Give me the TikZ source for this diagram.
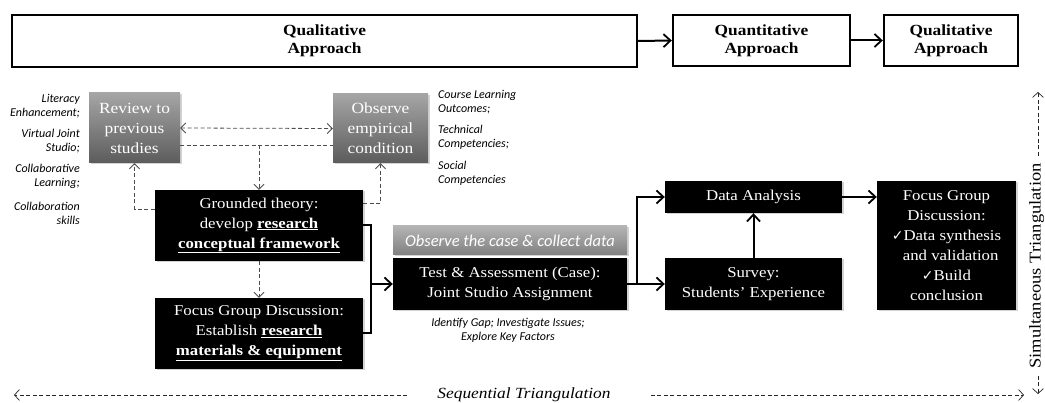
\documentclass[tikz,border=0pt]{standalone}
\usepackage{fontspec}
\setmainfont{Liberation Serif}[FakeStretch=1.12]
\newfontfamily\lab{Carlito}
\newfontfamily\sym{DejaVu Sans}
\usetikzlibrary{arrows.meta,shadows}
\definecolor{gtop}{RGB}{165,165,165}
\definecolor{gbot}{RGB}{92,92,92}
\definecolor{ctop}{RGB}{180,180,180}
\definecolor{cbot}{RGB}{128,128,128}
\begin{document}
\begin{tikzpicture}[x=1pt,y=-1pt,
  hdr/.style={draw,line width=2.4pt,align=center,inner sep=0pt,font=\fontsize{15.5}{18}\selectfont\bfseries},
  shad/.style={drop shadow={shadow xshift=1.5pt,shadow yshift=-1.5pt,opacity=0.35}},
  blk/.style={fill=black,text=white,align=center,inner sep=0pt,font=\fontsize{15}{20}\selectfont,shad},
  gry/.style={top color=gtop,bottom color=gbot,text=white,align=center,inner sep=0pt,font=\fontsize{15.5}{20}\selectfont,shad},
  lbl/.style={inner sep=0pt,font=\lab\itshape\fontsize{12}{13.8}\selectfont},
  sarr/.style={line width=2pt,-{Straight Barb[length=7pt,width=13pt,line width=1.8pt]}},
  sline/.style={line width=2pt},
  dl/.style={line width=0.8pt,draw=black!70,dash pattern=on 4pt off 2.5pt},
  darr/.style={dl,-{Straight Barb[length=5pt,width=10pt,line width=0.8pt]}},
  tri/.style={line width=0.7pt,draw=black!85,dash pattern=on 4pt off 2.5pt,-{Straight Barb[length=5pt,width=11pt,line width=0.7pt]}},
  tritxt/.style={inner sep=0pt,font=\fontsize{15.5}{18}\selectfont\itshape}
  ]
\useasboundingbox (0,0) rectangle (1045,403);

% header row
\node[hdr,minimum width=625pt,minimum height=52pt] (h1) at (324.5,41) {Qualitative\\Approach};
\node[hdr,minimum width=177pt,minimum height=51pt] (h2) at (761.5,40.5) {Quantitative\\Approach};
\node[hdr,minimum width=134pt,minimum height=51pt] (h3) at (951,40.5) {Qualitative\\Approach};
\draw[sarr] (h1.east) -- (h2.west);
\draw[sarr] (h2.east) -- (h3.west);

% gray boxes
\node[gry,minimum width=91pt,minimum height=70pt] (rev) at (134.5,128) {Review to\\previous\\studies};
\node[gry,minimum width=95pt,minimum height=69pt] (obs) at (380.5,128.5) {Observe\\empirical\\condition};

% left labels
\node[lbl,align=right,anchor=east] (l1) at (80,106.5) {Literacy\\Enhancement;};
\node[lbl,align=right,anchor=east] (l2) at (80,141.5) {Virtual Joint\\Studio;};
\node[lbl,align=right,anchor=east] (l3) at (80,176.5) {Collaborative\\Learning;};
\node[lbl,align=right,anchor=east] (l4) at (80,213.5) {Collaboration\\skills};
% right labels
\node[lbl,align=left,anchor=west] (r1) at (438,102) {Course Learning\\Outcomes;};
\node[lbl,align=left,anchor=west] (r2) at (438,137) {Technical\\Competencies;};
\node[lbl,align=left,anchor=west] (r3) at (438,173) {Social\\Competencies};

% black boxes left
\node[blk,minimum width=208pt,minimum height=71pt] (gt) at (259,225.5)
  {Grounded theory:\\develop \underline{\textbf{research}}\\\underline{\textbf{conceptual framework}}};
\node[blk,minimum width=208pt,minimum height=71pt] (fg) at (259,333.5)
  {Focus Group Discussion:\\Establish \underline{\textbf{research}}\\\underline{\textbf{materials \& equipment}}};

% dashed connectors
\draw[darr,{Straight Barb[length=5pt,width=10pt,line width=0.8pt]}-{Straight Barb[length=5pt,width=10pt,line width=0.8pt]}] (rev.east) -- (obs.west);
\coordinate (ya) at (0,145);
\draw[dl] (rev.east |- ya) -- (obs.west |- ya);
\draw[darr] (gt.north |- ya) -- (gt.north);
\coordinate (yb) at (0,209);
\draw[darr] (gt.west |- yb) -| (rev.south);
\coordinate (yc) at (0,203);
\draw[darr] (gt.east |- yc) -| (obs.south);
\draw[darr] (gt.south) -- (fg.north);

% middle
\node[top color=ctop,bottom color=cbot,text=white,inner sep=0pt,minimum width=234pt,minimum height=29pt,font=\lab\itshape\fontsize{16.5}{18}\selectfont,shad] (oc) at (510,240.5) {Observe the case \& collect data};
\node[blk,minimum width=234pt,minimum height=52pt] (ts) at (510,284) {Test \& Assessment (Case):\\Joint Studio Assignment};
\node[lbl,align=center] (id) at (508,330) {Identify Gap; Investigate Issues;\\Explore Key Factors};

% bracket
\coordinate (bx) at (371,0);
\coordinate (yd) at (0,225);
\coordinate (ye) at (0,333);
\draw[sline] (gt.east |- yd) -| (bx |- ye) -- (fg.east |- ye);
\draw[sarr] (bx |- ts.west) -- (ts.west);

% right part
\node[blk,minimum width=177pt,minimum height=32pt] (da) at (753.5,197) {Data Analysis};
\node[blk,minimum width=177pt,minimum height=52pt] (sv) at (753.5,284) {Survey:\\Students’ Experience};
\node[blk,minimum width=139pt,minimum height=129pt] (f2) at (946.5,245.5)
  {Focus Group\\Discussion:\\{\sym\fontsize{14}{20}\selectfont ✓}Data synthesis\\\ \ and validation\\{\sym\fontsize{14}{20}\selectfont ✓}Build\\conclusion};
\coordinate (bx2) at (637,0);
\draw[sarr] (ts.east) -- (sv.west);
\draw[sarr] (bx2 |- ts.east) |- (da.west);
\draw[sarr] (sv.north) -- (da.south);
\draw[sarr] (da.east) -- (f2.west |- da.east);

% sequential triangulation
\node[tritxt] (seq) at (524,395) {Sequential Triangulation};
\coordinate (sl) at (14,395);
\coordinate (sr) at (1024,395);
\draw[tri] ([xshift=-30pt]seq.west) -- (sl);
\draw[tri] ([xshift=40pt]seq.east) -- (sr);

% simultaneous triangulation
\node[inner sep=0pt,font=\fontsize{16.5}{18}\selectfont,rotate=90,anchor=south] (sim) at (1044.5,266) {Simultaneous Triangulation};
\coordinate (st) at (1038,92);
\coordinate (su) at (1038,156);
\coordinate (sd) at (1038,376);
\coordinate (sb) at (1038,394);
\draw[tri] (su) -- (st);
\draw[tri] (sd) -- (sb);
\end{tikzpicture}
\end{document}
